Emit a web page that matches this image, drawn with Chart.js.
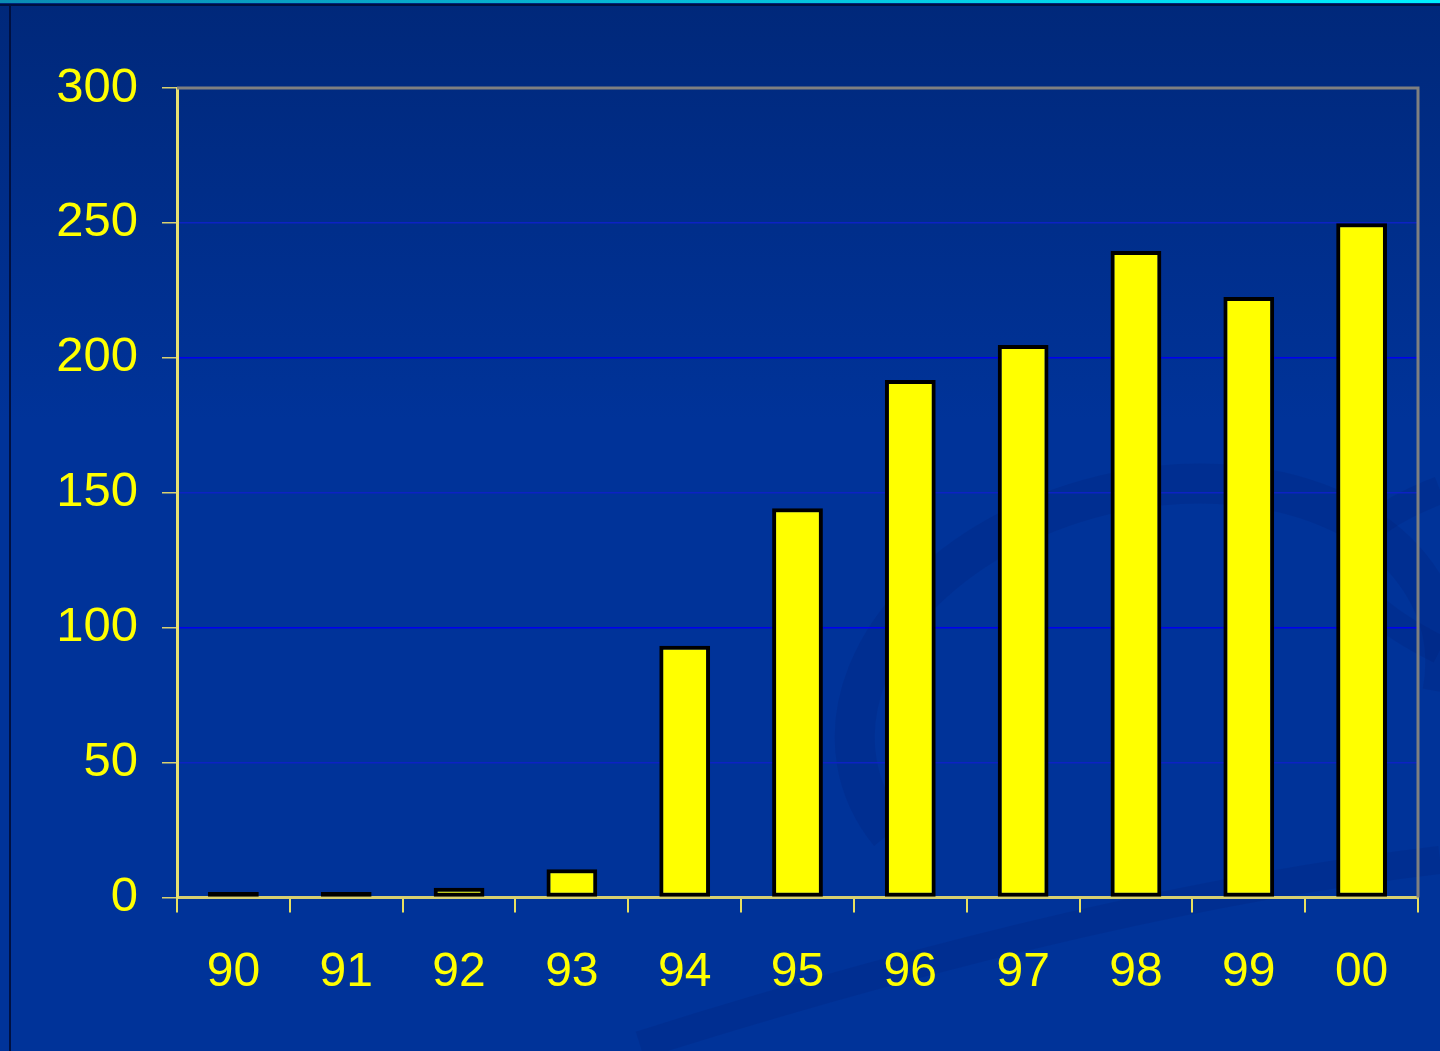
<!DOCTYPE html>
<html>
<head>
<meta charset="utf-8">
<script src="https://cdn.jsdelivr.net/npm/chart.js@4.4.1/dist/chart.umd.min.js"></script>
<style>
  html, body { margin: 0; padding: 0; background: #003399; }
  #wrap { width: 1440px; height: 1051px; position: relative; }
</style>
</head>
<body>
<div id="wrap"><canvas id="myChart"></canvas></div>
<script>
const YEARS = ['90', '91', '92', '93', '94', '95', '96', '97', '98', '99', '00'];
const COUNTS = [2.0, 2.0, 3.6, 10.5, 93.3, 144.3, 191.8, 204.8, 239.6, 222.5, 249.9];
const Y_MIN = 0;
const Y_MAX = 300;
const Y_STEP = 50;

const TEXT_YELLOW = '#ffff00';

// slide background, frame lines and the faint swoosh behind the plot
const backdrop = {
    id: 'backdrop',
    beforeDraw(chart) {
        const ctx = chart.ctx;
        const w = chart.width, h = chart.height;
        ctx.save();
        const bg = ctx.createLinearGradient(0, 0, 0, h);
        bg.addColorStop(0, '#00287a');
        bg.addColorStop(0.4, '#003399');
        bg.addColorStop(1, '#003399');
        ctx.fillStyle = bg;
        ctx.fillRect(0, 0, w, h);

        // swoosh
        ctx.strokeStyle = 'rgba(0, 30, 110, 0.18)';
        ctx.lineWidth = 40;
        ctx.beginPath();
        ctx.ellipse(1150, 700, 300, 210, -0.25, Math.PI * 0.9, Math.PI * 2.1);
        ctx.stroke();
        ctx.lineWidth = 28;
        ctx.beginPath();
        ctx.moveTo(640, 1045);
        ctx.quadraticCurveTo(1100, 900, 1440, 860);
        ctx.stroke();
        ctx.beginPath();
        ctx.moveTo(1440, 490);
        ctx.quadraticCurveTo(1260, 560, 1440, 650);
        ctx.stroke();

        const top = ctx.createLinearGradient(0, 0, w, 0);
        top.addColorStop(0, '#0a8cb4');
        top.addColorStop(1, '#00f0ff');
        ctx.fillStyle = top;
        ctx.fillRect(0, 0, w, 3);
        ctx.fillStyle = '#001040';
        ctx.fillRect(0, 4, w, 2);
        ctx.fillRect(9, 4, 2, h);
        ctx.restore();
    },
    afterDraw(chart) {
        const a = chart.chartArea;
        const ctx = chart.ctx;
        ctx.save();
        ctx.strokeStyle = '#808080';
        ctx.lineWidth = 3;
        ctx.beginPath();
        ctx.moveTo(a.left, a.top);
        ctx.lineTo(a.right, a.top);
        ctx.lineTo(a.right, a.bottom);
        ctx.stroke();
        ctx.restore();
    }
};

function gridColor(context) {
    const v = context.tick ? context.tick.value : null;
    if (v === Y_MIN || v === Y_MAX) return 'rgba(0,0,0,0)';
    if (v === 100 || v === 200) return '#0000f0';
    return '#0d22c4';
}

function initChart() {
    const ctx = document.getElementById('myChart').getContext('2d');
    myChart = new Chart(ctx, {
        type: 'bar',
        data: {
            labels: YEARS,
            datasets: [{
                data: COUNTS,
                backgroundColor: '#ffff00',
                borderColor: '#000000',
                borderWidth: 4,
                borderSkipped: false,
                barPercentage: 0.45,
                categoryPercentage: 1.0
            }]
        },
        options: {
            responsive: true,
            maintainAspectRatio: false,
            devicePixelRatio: 1,
            animation: false,
            layout: {
                padding: { left: 0, top: 88, right: 22, bottom: 0 }
            },
            plugins: {
                legend: { display: false },
                tooltip: { enabled: false }
            },
            scales: {
                x: {
                    afterFit: function(scale) { scale.height = 153.5; },
                    grid: {
                        offset: true,
                        drawOnChartArea: false,
                        tickLength: 15,
                        tickColor: '#e8e060',
                        lineWidth: 2
                    },
                    border: { color: '#d8d070', width: 3 },
                    ticks: {
                        color: TEXT_YELLOW,
                        padding: 31,
                        font: { family: '"Liberation Sans", Arial, sans-serif', size: 48 }
                    }
                },
                y: {
                    min: Y_MIN,
                    max: Y_MAX,
                    afterFit: function(scale) { scale.width = 177; },
                    grid: {
                        color: gridColor,
                        lineWidth: 1.5,
                        tickLength: 15,
                        tickColor: '#d8d070'
                    },
                    border: { color: '#e8e070', width: 3 },
                    ticks: {
                        stepSize: Y_STEP,
                        color: TEXT_YELLOW,
                        padding: 24,
                        font: { family: '"Liberation Sans", Arial, sans-serif', size: 49 }
                    }
                }
            }
        },
        plugins: [backdrop]
    });
}

document.addEventListener('DOMContentLoaded', initChart);
</script>
</body>
</html>
